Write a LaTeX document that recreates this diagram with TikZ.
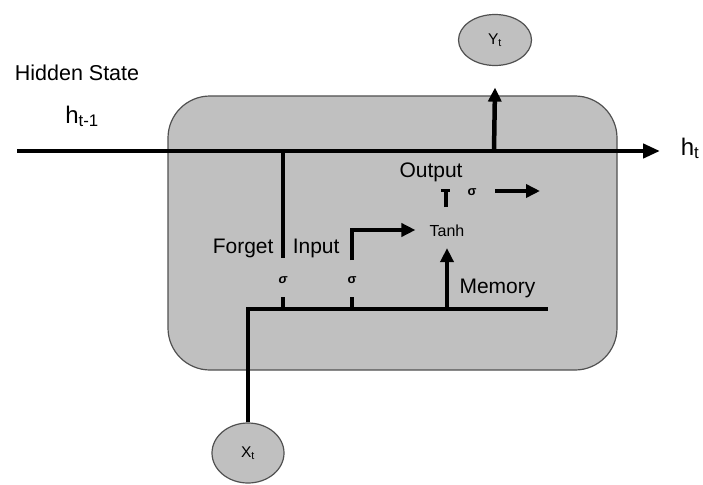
\documentclass[tikz,border=0pt]{standalone}
\usepackage{fontspec}
\setmainfont{Liberation Sans}
\usetikzlibrary{positioning,arrows.meta,shapes.geometric,calc}
\definecolor{cellgray}{HTML}{C0C0C0}
\definecolor{celledge}{HTML}{505050}

\begin{document}
\begin{tikzpicture}[x=1pt,y=-1pt,
  font=\fontsize{21}{24}\selectfont,
  cell/.style={draw=celledge,fill=cellgray,line width=1.2pt,rounded corners=42pt,minimum width=449pt,minimum height=274pt},
  io/.style={ellipse,draw=celledge,fill=cellgray,line width=1.2pt,minimum width=73pt,minimum height=51pt,inner sep=0pt,font=\fontsize{15.5}{17}\selectfont},
  wire/.style={line width=4.5pt,line join=miter},
  arr/.style={wire,-{Triangle[length=14pt,width=13pt]}},
  sig/.style={inner sep=0pt,font=\fontsize{13}{14}\selectfont\bfseries}
]
\useasboundingbox (0,0) rectangle (703,484);

% cell body and outer nodes
\node[cell] (cell) at (392.5,233) {};
\node[io] (yt) at (495,40) {Y\textsubscript{t}};
\node[io,minimum width=72pt,minimum height=60pt] (xt) at (248,453) {X\textsubscript{t}};

% labels
\node[anchor=base,font=\fontsize{21.5}{24}\selectfont] (hidlbl) at (77,81) {Hidden State};
\node[anchor=base,font=\fontsize{24}{28}\selectfont] (hprev) at (82,123) {h\textsubscript{t-1}};
\node[anchor=base,font=\fontsize{24}{28}\selectfont] (ht) at (690,155) {h\textsubscript{t}};
\node[anchor=base east] (fglbl) at (277,253) {Forget};
\node[anchor=base east] (inlbl) at (343,253) {Input};
\node[anchor=base west] (memlbl) at (456,293) {Memory};
\node[anchor=base west] (outlbl) at (396,177) {Output};
\node[inner xsep=14pt,inner ysep=11pt,font=\fontsize{16}{18}\selectfont] (tanh) at (447,231) {Tanh};
\node[sig,font=\fontsize{13}{14}\selectfont\bfseries\itshape] (sigf) at (283,280) {σ};
\node[sig] (sigi) at (352,280) {σ};
\node[sig] (sigo) at (472,192) {σ};

% hidden state line
\coordinate (hin) at (17,151);
\coordinate (hend) at (660,151);
\coordinate (ysplit) at (494,151);
\draw[wire,-{Triangle[length=17pt,width=14pt]}] (hin) -- (hend);
\draw[arr] (ysplit) -- ($(yt.south)+(0,21.5)$);

% gates
\draw[wire] (283,151) -- (283,258);
\draw[arr] (352,260) |- ($(tanh.west)+(0,-1)$);
\coordinate (memsplit) at (447,309);
\coordinate (memend) at (548,309);
\draw[wire] (xt.north) |- (memend);
\draw[arr] (memsplit) -- (tanh.south);
\draw[wire] ($(sigf)+(0,29)$) -- ($(sigf)+(0,17)$);
\draw[wire] ($(sigi)+(0,29)$) -- ($(sigi)+(0,17)$);

% output gate
\draw[wire] (446,207) -- (446,191);
\draw[line width=3pt] (441,190) -- (450,190);
\draw[arr] ($(sigo)+(23,-1)$) -- ($(sigo)+(68,-1)$);
\end{tikzpicture}
\end{document}
